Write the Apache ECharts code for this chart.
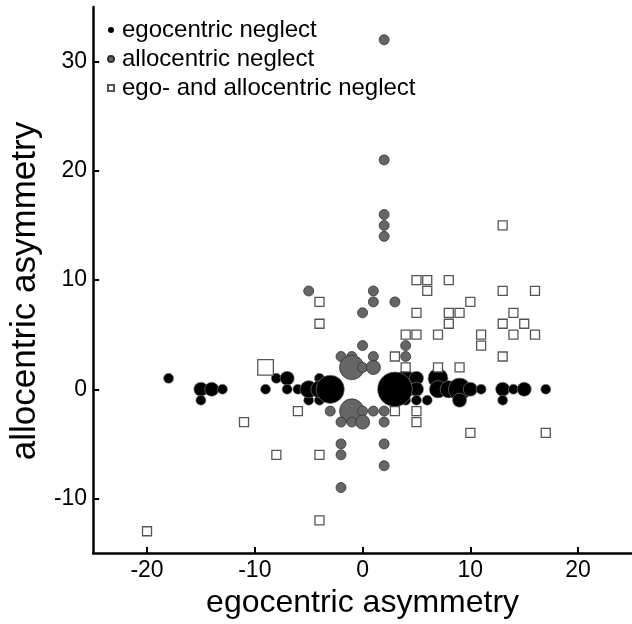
<!DOCTYPE html>
<html>
<head>
<meta charset="utf-8">
<script src="https://cdn.jsdelivr.net/npm/echarts@6/dist/echarts.min.js"></script>
<style>
  html, body { margin: 0; padding: 0; background: #fff; }
  #main { width: 632px; height: 624px; }
</style>
</head>
<body>
<div id="main"></div>
<script>
// [egocentric asymmetry, allocentric asymmetry, number of patients at that point]
var egoPoints = [
  [-18, 1, 1], [-15, 0, 2], [-14, 0, 2], [-13, 0, 1], [-15, -1, 1],
  [-9, 0, 1], [-8, 1, 1], [-7, 1, 2], [-7, 0, 1], [-6, 0, 1],
  [-4, 1, 1], [-4, -1, 1], [-5, -1, 1], [-5, 0, 3], [-4, 0, 3], [-3, 0, 8],
  [4, 1, 3], [5, 1, 2], [4, 0, 3], [5, 0, 2], [4, -1, 1], [5, -1, 1], [6, -1, 1],
  [7, 1, 4], [7, 0, 3], [8, 0, 3], [9, 0, 5], [9, -1, 2], [10, 0, 2], [11, 0, 1],
  [13, 0, 2], [13, -1, 1], [14, 0, 1], [15, 0, 2], [17, 0, 1], [3, 0, 12]
];
var alloPoints = [
  [2, 32, 1], [2, 21, 1], [2, 16, 1], [2, 15, 1], [2, 14, 1],
  [-5, 9, 1], [1, 9, 1], [1, 8, 1], [3, 8, 1], [0, 7, 1], [0, 4, 1], [4, 4, 1], [4, 3, 1],
  [-2, 3, 1], [-1, 3, 1], [1, 3, 1], [-1, 2, 6], [0, 2, 1], [1, 2, 2],
  [-3, -2, 1], [-1, -2, 6], [0, -2, 1], [1, -2, 1], [2, -2, 1],
  [-2, -3, 1], [-1, -3, 1], [0, -3, 2], [2, -3, 1],
  [-2, -5, 1], [-2, -6, 1], [-2, -9, 1], [2, -5, 1], [2, -7, 1]
];
var bothPoints = [
  [-20, -13, 1], [-11, -3, 1], [-9, 2, 3], [-8, -6, 1], [-6, -2, 1],
  [-4, 8, 1], [-4, 6, 1], [-4, -6, 1], [-4, -12, 1],
  [3, 3, 1], [3, -2, 1], [4, 5, 1], [4, 2, 1], [5, 5, 1], [5, 7, 1], [5, 10, 1],
  [5, -2, 1], [5, -3, 1], [6, 10, 1], [6, 9, 1], [7, 5, 1], [7, 2, 1],
  [8, 10, 1], [8, 7, 1], [8, 6, 1], [9, 7, 1], [9, 2, 1], [10, 8, 1], [10, -4, 1],
  [11, 5, 1], [11, 4, 1], [13, 15, 1], [13, 9, 1], [13, 6, 1], [13, 3, 1],
  [14, 7, 1], [14, 5, 1], [15, 6, 1], [16, 9, 1], [16, 5, 1], [17, -4, 1]
];
var seriesNames = ['egocentric neglect', 'allocentric neglect', 'ego- and allocentric neglect'];
var xTicks = [-20, -10, 0, 10, 20];
var yTicks = [-10, 0, 10, 20, 30];
var xTitle = 'egocentric asymmetry';
var yTitle = 'allocentric asymmetry';

var font = 'Liberation Sans, Arial, sans-serif';

var myChart = echarts.init(document.getElementById('main'));

// marker size grows with the number of overlapping patients
function circleSize(d) { return 10 * Math.sqrt(d[2]); }
function squareSize(d) { return 9 * Math.sqrt(d[2]); }

var option = {
  animation: false,
  textStyle: { fontFamily: font },
  legend: {
    orient: 'vertical',
    left: 102,
    top: 13,
    itemWidth: 6,
    itemHeight: 6,
    itemGap: 5,
    textStyle: { fontFamily: font, fontSize: 24, lineHeight: 24, color: '#000', padding: [0, 0, 0, 3] },
    data: [
      { name: seriesNames[0], itemStyle: { borderWidth: 0 } },
      { name: seriesNames[1] },
      { name: seriesNames[2] }
    ]
  },
  grid: { left: 82, right: 0, top: 7, bottom: 63 },
  xAxis: {
    type: 'value',
    min: -25,
    max: 25,
    name: xTitle,
    nameLocation: 'middle',
    nameGap: 24,
    nameTextStyle: { fontFamily: font, fontSize: 32, color: '#000' },
    axisLine: { onZero: false, lineStyle: { color: '#000', width: 2.5 } },
    axisTick: { inside: true, length: 6, customValues: xTicks, lineStyle: { color: '#000', width: 2 } },
    axisLabel: { customValues: xTicks, margin: 6, fontFamily: font, fontSize: 23, color: '#000' },
    splitLine: { show: false }
  },
  yAxis: {
    type: 'value',
    min: -15,
    max: 35,
    name: yTitle,
    nameLocation: 'middle',
    nameGap: 41,
    nameTextStyle: { fontFamily: font, fontSize: 35, color: '#000', padding: [0, 22, 0, 0] },
    axisLine: { onZero: false, lineStyle: { color: '#000', width: 2.5 } },
    axisTick: { inside: true, length: 6, customValues: yTicks, lineStyle: { color: '#000', width: 2 } },
    axisLabel: { customValues: yTicks, margin: 6, fontFamily: font, fontSize: 23, color: '#000' },
    splitLine: { show: false }
  },
  series: [
    {
      name: seriesNames[0],
      type: 'scatter',
      symbol: 'circle',
      symbolSize: function (d) { return circleSize(d); },
      itemStyle: { color: '#000', borderColor: '#8a8a8a', borderWidth: 0.6, opacity: 1 },
      data: egoPoints
    },
    {
      name: seriesNames[1],
      type: 'scatter',
      symbol: 'circle',
      symbolSize: function (d) { return circleSize(d); },
      itemStyle: { color: '#666', borderColor: '#333', borderWidth: 0.8, opacity: 1 },
      data: alloPoints
    },
    {
      name: seriesNames[2],
      type: 'scatter',
      symbol: 'rect',
      symbolSize: function (d) { return squareSize(d); },
      itemStyle: { color: '#fff', borderColor: '#555', borderWidth: 1.3, opacity: 1 },
      data: bothPoints
    }
  ]
};

myChart.setOption(option);
</script>
</body>
</html>
